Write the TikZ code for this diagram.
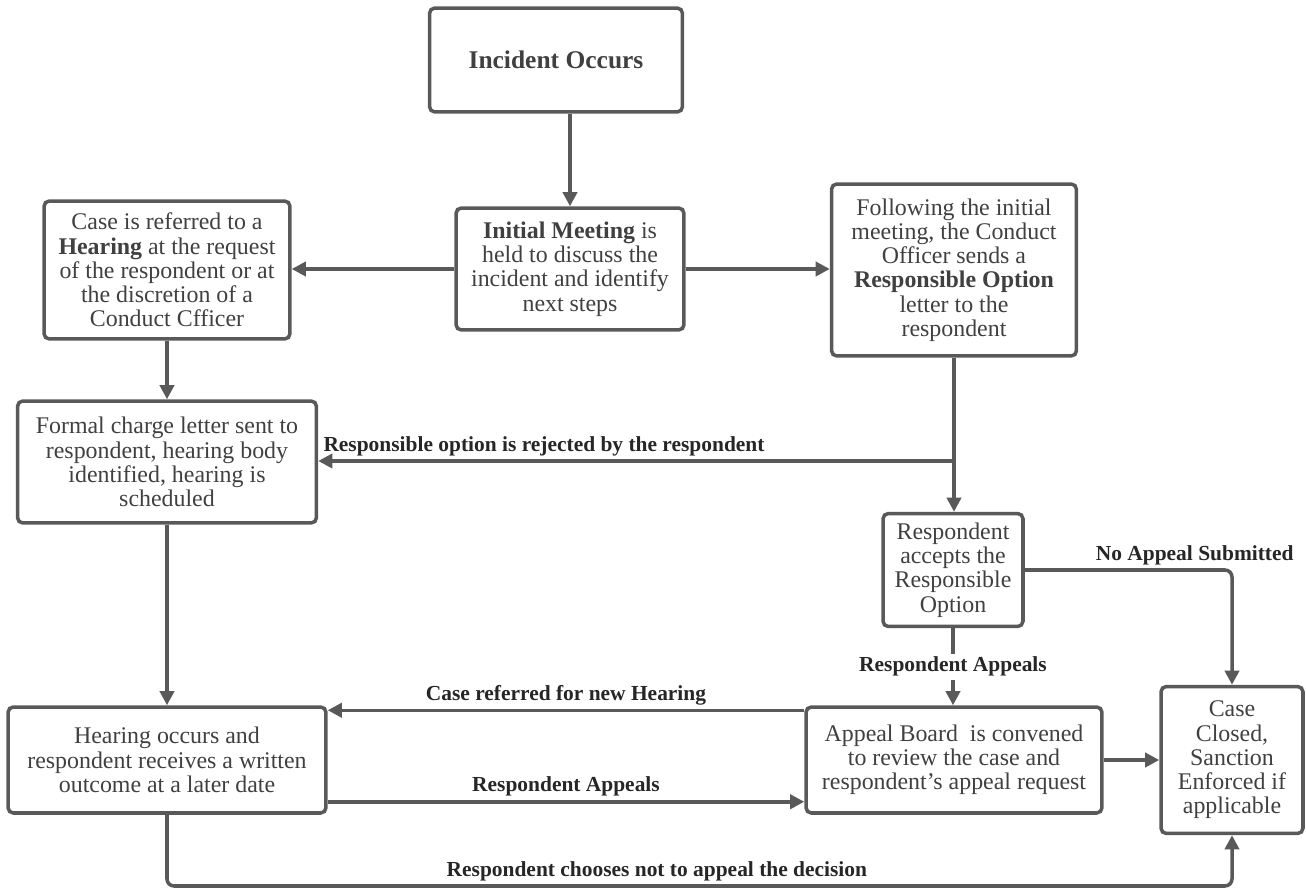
\documentclass[tikz,border=0pt]{standalone}
\usepackage{fontspec}
\setmainfont{Liberation Serif}
\usetikzlibrary{arrows.meta}

\definecolor{linegray}{HTML}{595959}
\definecolor{boxtext}{HTML}{404040}
\definecolor{lbltext}{HTML}{262626}

\begin{document}
\begin{tikzpicture}[x=0.02cm,y=-0.02cm,
    box/.style={draw=linegray, line width=2pt, rounded corners=3pt, align=center,
        text=boxtext, inner sep=2pt, font=\fontsize{13.6}{13.8}\selectfont},
    flow/.style={draw=linegray, line width=2pt, -{Triangle[length=8pt,width=8pt]}},
    lbl/.style={font=\bfseries\fontsize{12.2}{13}\selectfont, text=lbltext, inner sep=2pt}]

        \useasboundingbox (0,0) rectangle (1306,892);

        % the boxes of the process
        \node[box, minimum width=5.06cm, minimum height=2.08cm] (incident) at (556,60)
            {\fontsize{14.5}{15}\selectfont\textbf{Incident Occurs}};
        \node[box, minimum width=4.56cm, minimum height=2.44cm] (initial) at (570,269)
            {\textbf{Initial Meeting} is\\ held to discuss the\\ incident and identify\\ next steps};
        \node[box, minimum width=4.92cm, minimum height=2.76cm] (referral) at (167,270)
            {Case is referred to a\\ \textbf{Hearing} at the request\\ of the respondent or at\\ the discretion of a\\ Conduct Cfficer};
        \node[box, minimum width=4.90cm, minimum height=3.44cm] (option) at (954,270)
            {Following the initial\\ meeting, the Conduct\\ Officer sends a\\ \textbf{Responsible Option}\\ letter to the\\ respondent};
        \node[box, minimum width=5.98cm, minimum height=2.44cm] (charge) at (167,462)
            {Formal charge letter sent to\\ respondent, hearing body\\ identified, hearing is\\ scheduled};
        \node[box, minimum width=2.80cm, minimum height=2.26cm] (accept) at (953,570)
            {Respondent\\ accepts the\\ Responsible\\ Option};
        \node[box, minimum width=6.36cm, minimum height=2.12cm] (hearing) at (167,760)
            {Hearing occurs and\\ respondent receives a written\\ outcome at a later date};
        \node[box, minimum width=5.92cm, minimum height=2.12cm] (appeal) at (954,760)
            {Appeal Board\ \ is convened\\ to review the case and\\ respondent's appeal request};
        \node[box, minimum width=2.84cm, minimum height=2.94cm] (closed) at (1232,760)
            {Case\\ Closed,\\ Sanction\\ Enforced if\\ applicable};

        % helper points for the connectors
        \coordinate (split) at (option.south |- 0,461);
        \coordinate (newin) at ([yshift=-0.1cm]appeal.north west);
        \coordinate (appout) at ([yshift=0.26cm]hearing.south east);
        \coordinate (base) at (hearing.south |- 0,886);

        % draw the arrows
        \draw[flow] (incident.south -| initial.north) -- (initial.north);
        \draw[flow] (initial.west) -- (initial.west -| referral.east);
        \draw[flow] (initial.east) -- (initial.east -| option.west);
        \draw[flow] (referral) -- (charge);
        \draw[flow] (option.south) -- (option.south |- accept.north);
        \draw[flow] (split) -- (split -| charge.east)
            node[lbl, anchor=south west] {Responsible option is rejected by the respondent};
        \draw[flow] (charge) -- (hearing);
        \draw[flow] (accept.south) -- (accept.south |- appeal.north)
            node[lbl, midway, fill=white] {Respondent Appeals};
        \draw[flow, rounded corners=4pt] (accept.east) -| (closed.north)
            node[lbl, above, pos=0.41] {No Appeal Submitted};
        \draw[flow] (newin) -- (newin -| hearing.east)
            node[lbl, above, midway] {Case referred for new Hearing};
        \draw[flow] (appout) -- (appout -| appeal.west)
            node[lbl, above, midway] {Respondent Appeals};
        \draw[flow] (appeal.east) -- (appeal.east -| closed.west);
        \draw[flow, rounded corners=4pt] (hearing.south) -- (base) -| (closed.south)
            node[lbl, above, pos=0.23] {Respondent chooses not to appeal the decision};

\end{tikzpicture}
\end{document}
